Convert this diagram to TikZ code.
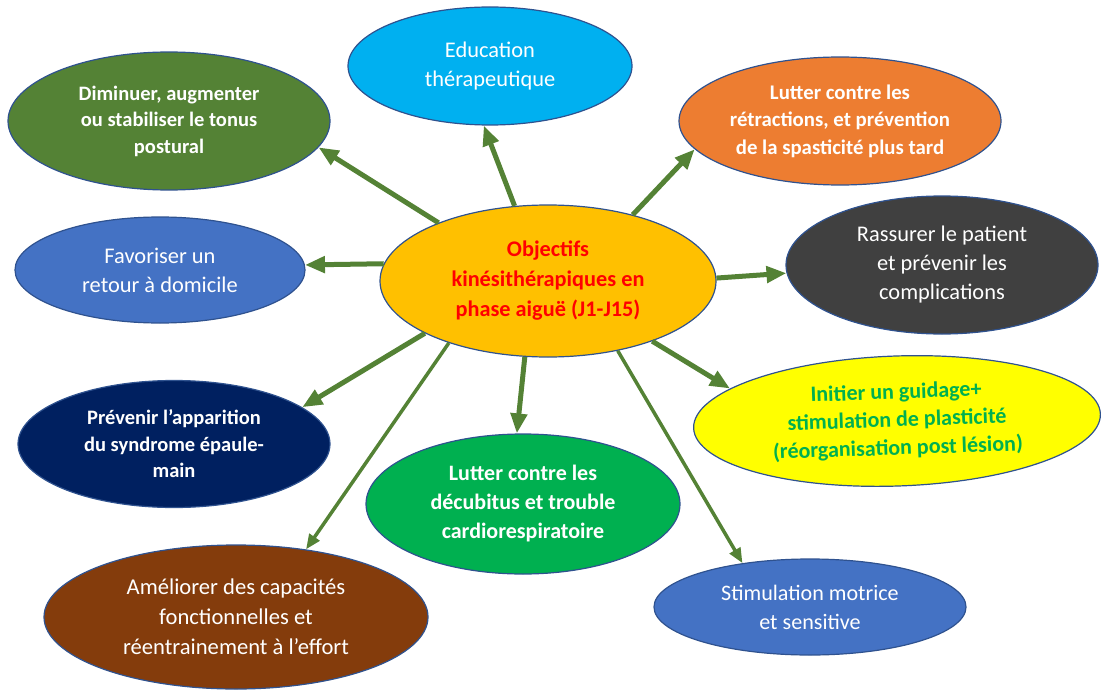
\documentclass[tikz,border=0pt]{standalone}
\usepackage{fontspec}
\setmainfont{Carlito}
\usetikzlibrary{shapes.geometric,arrows.meta}
\definecolor{bord}{HTML}{2F528F}
\definecolor{arrg}{HTML}{548235}
\definecolor{cyel}{HTML}{FFC000}
\definecolor{cgreen}{HTML}{548235}
\definecolor{cblue}{HTML}{00B0F0}
\definecolor{corange}{HTML}{ED7D31}
\definecolor{cgray}{HTML}{404040}
\definecolor{cmid}{HTML}{4472C4}
\definecolor{cyellow}{HTML}{FFFF00}
\definecolor{cnavy}{HTML}{002060}
\definecolor{cvert}{HTML}{00B050}
\definecolor{cbrown}{HTML}{843C0C}
\definecolor{cred}{HTML}{FF0000}
\begin{document}
\begin{tikzpicture}[x=1pt,y=-1pt,
  bub/.style={ellipse, draw=bord, line width=1.2pt, inner sep=0pt, align=center, text=white, font=\fontsize{22.4}{29}\selectfont},
  bbub/.style={bub, font=\fontsize{20.5}{26.5}\selectfont\bfseries},
  arr/.style={draw=arrg, line width=5pt, -{Triangle[length=20pt,width=16pt]}},
  tarr/.style={draw=arrg, line width=3.5pt, -{Triangle[length=15pt,width=12pt]}}]
\useasboundingbox (0,0) rectangle (1102,690);

\node[bbub, fill=cyel, text=cred, minimum width=336pt, minimum height=152pt, font=\fontsize{22.3}{30}\selectfont\bfseries] (c) at (548,281) {Objectifs\\kinésithérapiques en\\phase aiguë (J1-J15)};

\node[bbub, fill=cgreen, minimum width=322pt, minimum height=138pt] (dim) at (169,121) {Diminuer, augmenter\\ou stabiliser le tonus\\postural};
\node[bub, fill=cblue, minimum width=284pt, minimum height=118pt] (edu) at (490,66) {Education\\thérapeutique};
\node[bbub, fill=corange, minimum width=322pt, minimum height=128pt, font=\fontsize{20.8}{27.5}\selectfont\bfseries] (ret) at (840,121) {Lutter contre les\\rétractions, et prévention\\de la spasticité plus tard};
\node[bub, fill=cgray, minimum width=312pt, minimum height=138pt] (ras) at (942,265) {Rassurer le patient\\et prévenir les\\complications};
\node[bub, fill=cmid, minimum width=290pt, minimum height=106pt] (fav) at (160,270) {Favoriser un\\retour à domicile};
\node[bbub, fill=cyellow, text=cvert, minimum width=407pt, minimum height=130pt, rotate=2, font=\fontsize{22}{28}\selectfont\bfseries] (ini) at (897,421) {Initier un guidage+\\stimulation de plasticité\\(réorganisation post lésion)};
\node[bbub, fill=cnavy, minimum width=312pt, minimum height=127pt] (pre) at (174,444) {Prévenir l’apparition\\du syndrome épaule-\\main};
\node[bbub, fill=cvert, minimum width=314pt, minimum height=140pt, font=\fontsize{22}{29}\selectfont\bfseries] (dec) at (523,504) {Lutter contre les\\décubitus et trouble\\cardiorespiratoire};
\node[bub, fill=cbrown, minimum width=384pt, minimum height=144pt, font=\fontsize{22.6}{30}\selectfont] (ame) at (236,617) {Améliorer des capacités\\fonctionnelles et\\réentrainement à l’effort};
\node[bub, fill=cmid, minimum width=312pt, minimum height=96pt, font=\fontsize{22.1}{29}\selectfont] (sti) at (810,607) {Stimulation motrice\\et sensitive};

\draw[arr] (c.152) -- (dim.350);
\draw[arr] (c.114) -- (edu.264);
\draw[arr] (c.38) -- (ret.191);
\draw[arr] (c.1) -- (ras.183);
\draw[arr] (c.174) -- (fav.2);
\draw[arr] (c.330) -- (ini.167);
\draw[arr] (c.203) -- (pre.16);
\draw[arr] (c.253) -- (dec.95);
\draw[tarr] (c.212) -- (ame.44.6);
\draw[tarr] (c.315) -- (sti.147);
\end{tikzpicture}
\end{document}
